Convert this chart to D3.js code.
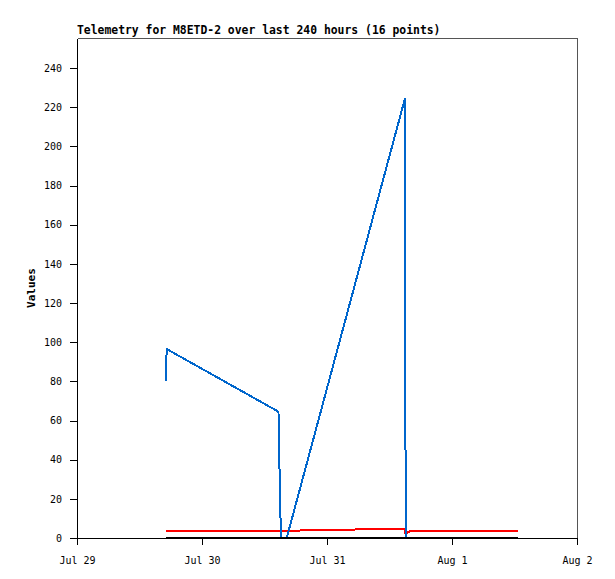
<html>
<head>
<meta charset="utf-8">
<script src="https://d3js.org/d3.v7.min.js"></script>
<style>
body { margin:0; background:#fff; }
.axis text { font: 10px "DejaVu Sans Mono", monospace; fill:#000; }
.axis path, .axis line { stroke:#000; }
.title { font: bold 11.4px "DejaVu Sans Mono", monospace; fill:#000; }
.ylabel { font: bold 11px "DejaVu Sans Mono", monospace; fill:#000; }
</style>
</head>
<body>
<div id="chart"></div>
<script>

// sample times, 16 points
var times = [
  "2021-07-29T17:02", "2021-07-29T17:08", "2021-07-29T17:13",
  "2021-07-30T14:41", "2021-07-30T14:49", "2021-07-30T14:59", "2021-07-30T15:14", "2021-07-30T16:16",
  "2021-07-31T14:59", "2021-07-31T15:02", "2021-07-31T15:10", "2021-07-31T15:28", "2021-07-31T16:16",
  "2021-07-31T23:30", "2021-08-01T06:12", "2021-08-01T12:37"
];
var blueValues  = [80, 88, 96.5, 64.5, 47.8, 16.3, 0, 0, 224.6, 64.5, 0, 0, 0, 0, 0, 0];
var redValues   = [3.7, 3.7, 3.7, 3.7, 3.7, 3.7, 3.7, 3.7, 4.8, 2.5, 1.5, 2.8, 3.8, 3.8, 3.8, 3.8];
var blackValues = [0, 0, 0, 0, 0, 0, 0, 0, 0, 0, 0, 0, 0, 0, 0, 0];

var yTicks = [0, 20, 40, 60, 80, 100, 120, 140, 160, 180, 200, 220, 240];
var xTicks = ["2021-07-29", "2021-07-30", "2021-07-31", "2021-08-01", "2021-08-02"];
var xStart = "2021-07-29T00:00", xEnd = "2021-08-02T00:00";
var yMax = 255.32;

var parse = d3.timeParse("%Y-%m-%dT%H:%M"),
    parseDay = d3.timeParse("%Y-%m-%d");

let margin = {top:38, right:38, bottom:41, left:77},
    width = 615 - margin.left - margin.right,
    height = 579 - margin.top - margin.bottom;

let x = d3.scaleTime().domain([parse(xStart), parse(xEnd)]).range([0, width]),
    y = d3.scaleLinear().domain([0, yMax]).range([height, 0]);

let svg = d3.select("#chart").append("svg")
    .attr("width", 615)
    .attr("height", 579);

let g = svg.append("g")
    .attr("transform", "translate(" + margin.left + "," + margin.top + ")");

// top / right frame
g.append("path")
  .attr("d", "M0.5,0.5H" + (width + 0.5) + "V" + height)
  .attr("fill", "none")
  .attr("stroke", "#555")
  .attr("shape-rendering", "crispEdges");

g.append("g")
  .attr("class", "axis axis--y")
  .attr("shape-rendering", "crispEdges")
  .call(d3.axisLeft(y).tickValues(yTicks).tickSize(7).tickSizeOuter(0).tickPadding(8));

g.append("g")
  .attr("class", "axis axis--x")
  .attr("transform", "translate(0," + height + ")")
  .attr("shape-rendering", "crispEdges")
  .call(d3.axisBottom(x).tickValues(xTicks.map(parseDay)).tickSize(7).tickSizeOuter(0).tickPadding(7)
    .tickFormat(d3.timeFormat("%b %-d")));

g.selectAll(".axis--x text").attr("dy", "1.15em");

// series
let pts = times.map(parse);
function series(vals, color, w) {
  let line = d3.line()
    .x(function(d, i) { return x(pts[i]); })
    .y(function(d) { return y(d); });
  g.append("path")
    .datum(vals)
    .attr("fill", "none")
    .attr("stroke", color)
    .attr("stroke-width", w)
    .attr("shape-rendering", "crispEdges")
    .attr("d", line);
}
series(redValues, "#ff0000", 2);
series(blueValues, "#0066cc", 2);
series(blackValues, "#000000", 2);

// title
svg.append("text")
  .attr("class", "title")
  .attr("x", margin.left)
  .attr("y", 34)
  .text("Telemetry for M8ETD-2 over last 240 hours (16 points)");

// y label
svg.append("text")
  .attr("class", "ylabel")
  .attr("transform", "translate(35," + (margin.top + height / 2) + ") rotate(-90)")
  .attr("text-anchor", "middle")
  .text("Values");

</script>
</body>
</html>
